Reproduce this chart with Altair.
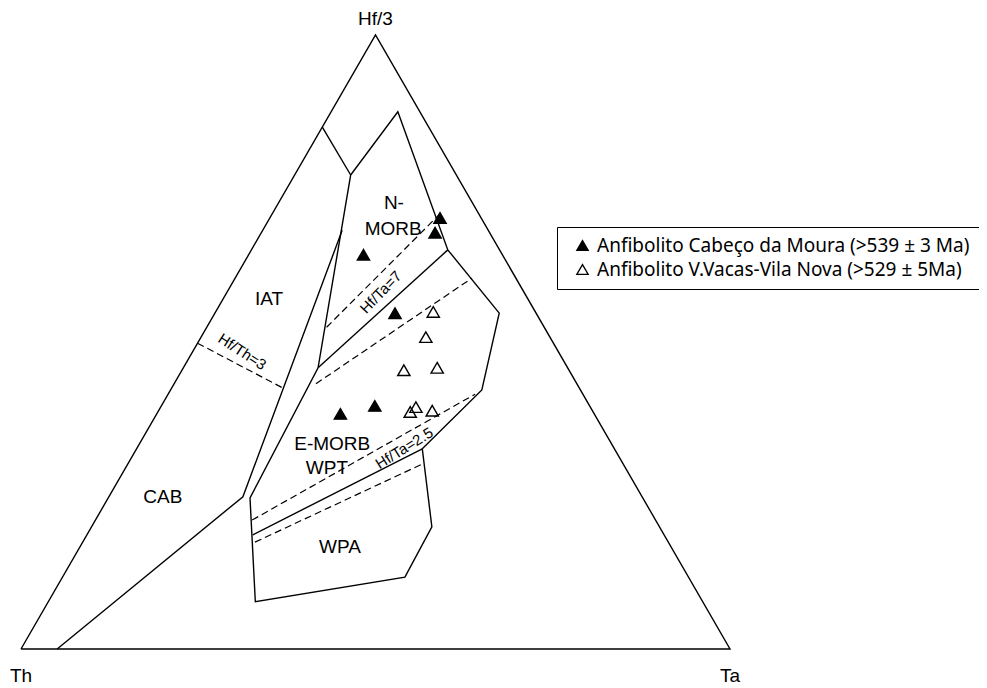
import math
import altair as alt
import pandas as pd

# ---------------- data: ternary coordinates in percent, each vertex is (Hf/3, Ta); Th = 100 - Hf/3 - Ta
FRAME = [(0, 0), (100, 0), (0, 100), (0, 0)]
CAB_IAT_LINE = [(0.0, 5.1), (24.8, 18.9), (68.2, 11.2)]
IAT_TOP_LINE = [(85.0, 0.0), (77.2, 7.9)]
MORB_OUTLINE = [(77.2, 7.9), (87.5, 9.4), (65.0, 27.7), (54.7, 40.1), (42.2, 43.9),
                (32.6, 40.3), (19.9, 48.0), (11.7, 48.3), (7.7, 29.2), (24.6, 20.0),
                (45.8, 19.0), (77.2, 7.9)]
NMORB_EMORB_LINE = [(45.8, 19.0), (65.0, 27.7)]
EMORB_WPA_LINE = [(18.6, 23.4), (32.6, 40.3)]

DASH_HF_TH3 = [(49.8, 0.0), (42.5, 15.7)]
DASH_HF_TA7 = [(52.4, 16.9), (70.7, 23.6)]
DASH_MID = [(43.2, 20.0), (60.4, 33.4)]
DASH_HF_TA25 = [(21.0, 22.1), (41.5, 43.3)]
DASH_LOW = [(17.4, 24.3), (30.1, 41.5)]

SERIES = ["Anfibolito Cabeço da Moura (>539 ± 3 Ma)",
          "Anfibolito V.Vacas-Vila Nova (>529 ± 5Ma)"]
CABECO_HF = [70.2, 67.8, 64.2, 54.7, 38.3, 39.6]
CABECO_TA = [24.0, 24.5, 16.2, 25.4, 25.9, 30.1]
VACAS_HF = [54.9, 50.8, 45.4, 45.8, 39.4, 38.6, 38.8]
VACAS_TA = [30.7, 31.7, 31.3, 35.8, 36.0, 35.6, 38.6]

FIELD_LABELS = ["N-", "MORB", "IAT", "CAB", "E-MORB", "WPT", "WPA"]
FIELD_LABEL_HF = [72.6, 68.4, 57.0, 24.8, 33.4, 29.5, 16.6]
FIELD_LABEL_TA = [16.3, 18.3, 6.5, 7.6, 27.2, 28.4, 36.7]

RATIO_LABELS = ["Hf/Ta=7", "Hf/Ta=2.5", "Hf/Th=3"]
RATIO_LABEL_HF = [58.1, 32.7, 48.4]
RATIO_LABEL_TA = [21.7, 37.7, 7.0]
RATIO_LABEL_ANGLE = [314, 328, 33]

APEX_LABELS = ["Hf/3", "Th", "Ta"]
APEX_HF = [100, 0, 0]
APEX_TA = [0, 0, 100]


def to_xy(hf, ta):
    return ta / 100.0 + hf / 200.0, hf / 100.0 * math.sqrt(3) / 2.0


def lines_frame(lines):
    rows = []
    for name, pts in lines.items():
        for i, (hf, ta) in enumerate(pts):
            x, y = to_xy(hf, ta)
            rows.append({"line": name, "i": i, "x": x, "y": y})
    return pd.DataFrame(rows)


solid_df = lines_frame({
    "frame": FRAME, "cab_iat": CAB_IAT_LINE, "iat_top": IAT_TOP_LINE,
    "morb": MORB_OUTLINE, "n_e": NMORB_EMORB_LINE, "e_wpa": EMORB_WPA_LINE,
})
dash_df = lines_frame({
    "th3": DASH_HF_TH3, "ta7": DASH_HF_TA7, "mid": DASH_MID,
    "ta25": DASH_HF_TA25, "low": DASH_LOW,
})

pt_rows = []
for hf, ta in zip(CABECO_HF, CABECO_TA):
    x, y = to_xy(hf, ta)
    pt_rows.append({"series": SERIES[0], "x": x, "y": y})
for hf, ta in zip(VACAS_HF, VACAS_TA):
    x, y = to_xy(hf, ta)
    pt_rows.append({"series": SERIES[1], "x": x, "y": y})
pts_df = pd.DataFrame(pt_rows)

field_df = pd.DataFrame([
    dict(zip(["label", "x", "y"], (lab, *to_xy(hf, ta))))
    for lab, hf, ta in zip(FIELD_LABELS, FIELD_LABEL_HF, FIELD_LABEL_TA)
])
ratio_df = pd.DataFrame([
    dict(zip(["label", "x", "y", "angle"], (lab, *to_xy(hf, ta), ang)))
    for lab, hf, ta, ang in zip(RATIO_LABELS, RATIO_LABEL_HF, RATIO_LABEL_TA, RATIO_LABEL_ANGLE)
])
apex_df = pd.DataFrame([
    dict(zip(["label", "x", "y"], (lab, *to_xy(hf, ta))))
    for lab, hf, ta in zip(APEX_LABELS, APEX_HF, APEX_TA)
])

# ---------------- scales (unit triangle: base length 1)
W, H = 971, 680
PX_PER_UNIT = 709.0
x0 = -13.0 / PX_PER_UNIT
x1 = x0 + W / PX_PER_UNIT
y1 = 641.0 / PX_PER_UNIT
y0 = y1 - H / PX_PER_UNIT
xs = alt.Scale(domain=[x0, x1], nice=False, zero=False)
ys = alt.Scale(domain=[y0, y1], nice=False, zero=False)
X = alt.X("x:Q", scale=xs, axis=None)
Y = alt.Y("y:Q", scale=ys, axis=None)

LABEL_FONT = "Liberation Sans"

solid = alt.Chart(solid_df).mark_line(color="black", strokeWidth=1.4).encode(
    x=X, y=Y, detail="line:N", order="i:Q")
dashed = alt.Chart(dash_df).mark_line(color="black", strokeWidth=1.2, strokeDash=[7, 4]).encode(
    x=X, y=Y, detail="line:N", order="i:Q")

points = alt.Chart(pts_df).mark_point(
    shape="triangle-up", filled=True, size=150, stroke="black", strokeWidth=1.4, opacity=1
).encode(
    x=X, y=Y,
    fill=alt.Fill("series:N",
                  scale=alt.Scale(domain=SERIES, range=["black", "transparent"]),
                  legend=alt.Legend(
                      title=None, orient="none", legendX=549, legendY=219,
                      strokeColor="black", fillColor="white", padding=9,
                      labelFont="Noto Sans", labelFontSize=19, labelColor="black",
                      labelOffset=5, labelLimit=600, rowPadding=4,
                      symbolType="triangle-up", symbolSize=130, symbolOffset=7,
                      symbolStrokeColor="black", symbolStrokeWidth=1.3)),
)

fields = alt.Chart(field_df).mark_text(
    font=LABEL_FONT, fontSize=19, color="black", align="center", baseline="middle"
).encode(x=X, y=Y, text="label:N")

ratios = alt.Chart(ratio_df).mark_text(
    font=LABEL_FONT, fontSize=15, color="black", align="center", baseline="middle"
).encode(x=X, y=Y, text="label:N", angle=alt.Angle("angle:Q", scale=None))

apex_top = alt.Chart(apex_df).transform_filter(alt.datum.label == "Hf/3").mark_text(
    font=LABEL_FONT, fontSize=19, color="black", align="center", baseline="alphabetic", dy=-10
).encode(x=X, y=Y, text="label:N")
apex_base = alt.Chart(apex_df).transform_filter(alt.datum.label != "Hf/3").mark_text(
    font=LABEL_FONT, fontSize=19, color="black", align="center", baseline="alphabetic", dy=33
).encode(x=X, y=Y, text="label:N")

chart = alt.layer(solid, dashed, points, fields, ratios, apex_top, apex_base).properties(
    width=W, height=H, autosize=alt.AutoSizeParams(type="none"), padding=0,
    background="white",
).configure_view(stroke=None)

chart.save("out.html", embed_options={"renderer": "svg", "actions": False})
